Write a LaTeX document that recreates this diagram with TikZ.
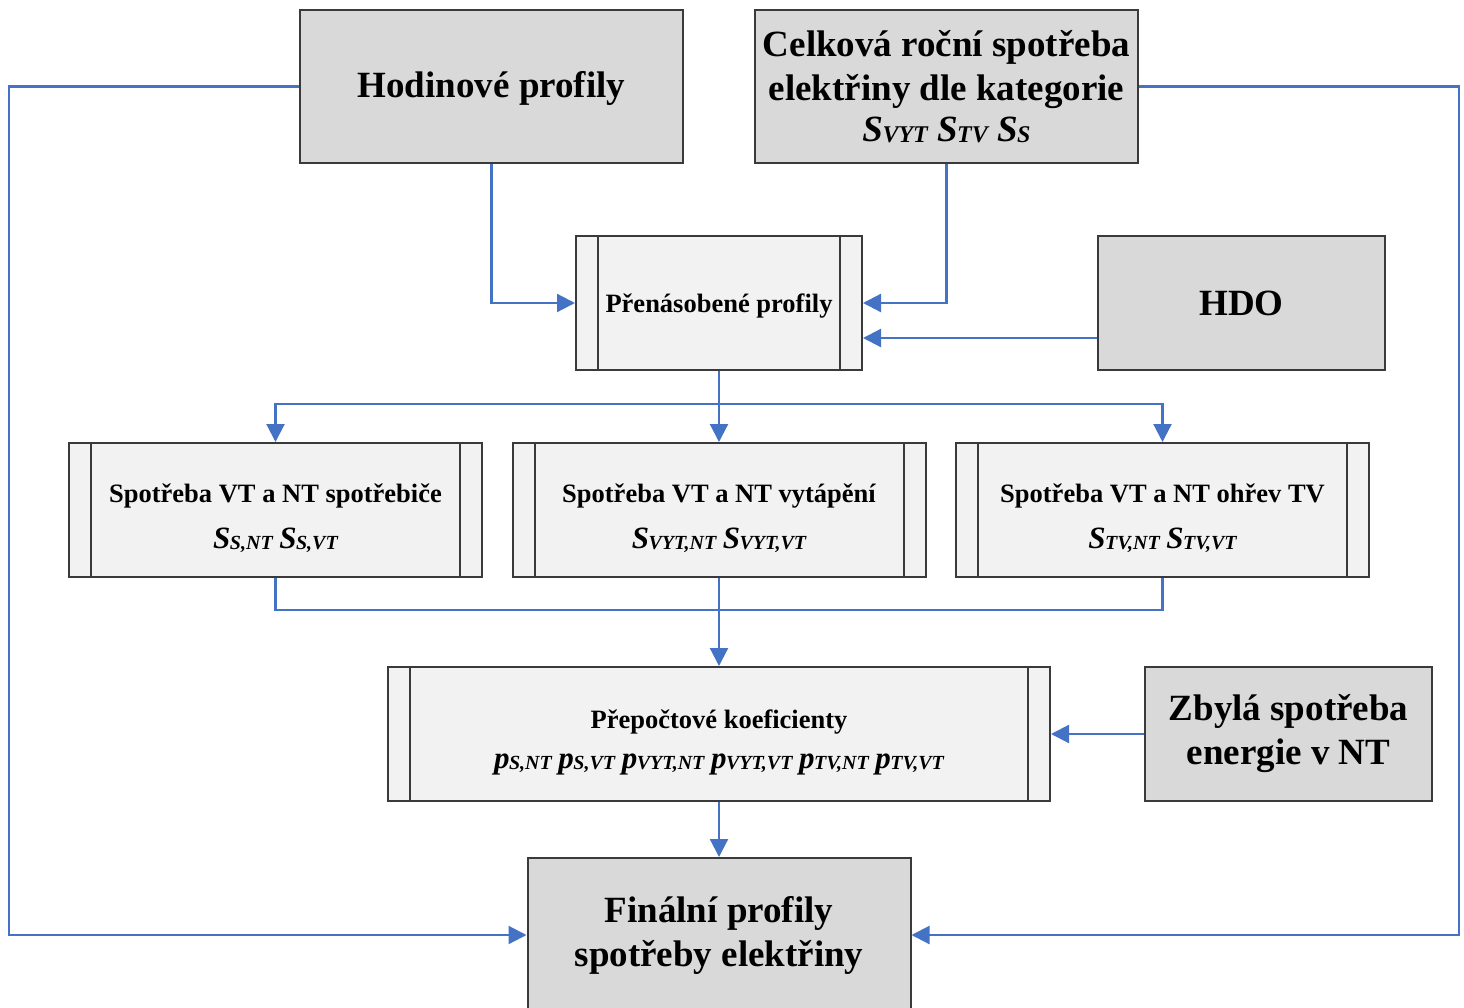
\documentclass[tikz,border=0pt]{standalone}
\usepackage{fontspec}
\setmainfont{Liberation Serif}
\usetikzlibrary{arrows.meta,calc}

\definecolor{flow}{HTML}{4472C4}
\definecolor{boxdark}{HTML}{D9D9D9}
\definecolor{boxlight}{HTML}{F2F2F2}
\definecolor{edge}{HTML}{3A3A3A}

% symbol with a smaller italic subscript
\newcommand{\Sym}[4]{{\fontsize{#3}{#3}\selectfont\bfseries\itshape #1\kern-0.5pt\raisebox{-1pt}{\fontsize{#4}{#4}\selectfont #2}}}
% taller first line, pushes a two-line label a little lower
\newcommand{\toppad}{\rule{0pt}{35pt}}

\begin{document}
\begin{tikzpicture}[x=1pt,y=-1pt,
  big/.style={font=\fontsize{37}{44}\selectfont\bfseries},
  small/.style={font=\fontsize{26.5}{46}\selectfont\bfseries},
  databox/.style={draw=edge, line width=2pt, fill=boxdark, inner sep=0pt, align=center},
  procbox/.style={draw=edge, line width=2pt, fill=boxlight, inner sep=0pt, align=center,
    path picture={
      \draw[edge, line width=2pt]
        ([xshift=22pt]path picture bounding box.north west) --
        ([xshift=22pt]path picture bounding box.south west);
      \draw[edge, line width=2pt]
        ([xshift=-22pt]path picture bounding box.north east) --
        ([xshift=-22pt]path picture bounding box.south east);
    }},
  link/.style={draw=flow, line width=2.2pt},
  conn/.style={link, -{Triangle[length=18pt,width=18pt]}},
]
\useasboundingbox (0,0) rectangle (1464,1008);

% input data
\node[databox, big, minimum width=383pt, minimum height=153pt] (hod) at (491.5,86.5) {\rule{0pt}{30pt}Hodinové profily};
\node[databox, big, minimum width=383pt, minimum height=153pt] (cel) at (946.5,86.5)
  {Celková roční spotřeba\\elektřiny dle kategorie\\[-3pt]
   \Sym{S}{VYT}{37}{24} \Sym{S}{TV}{37}{24} \Sym{S}{S}{37}{24}};
\node[databox, big, minimum width=287pt, minimum height=134pt] (hdo) at (1241.5,303) {HDO};

% multiplied profiles
\node[procbox, small, minimum width=286pt, minimum height=134pt] (pren) at (719,303) {\rule{0pt}{24pt}Přenásobené profily};

% consumption split by tariff
\node[procbox, small, minimum width=413pt, minimum height=134pt] (sp1) at (275.5,510)
  {\toppad Spotřeba VT a NT spotřebiče\\ \Sym{S}{S,NT}{31}{20} \Sym{S}{S,VT}{31}{20}};
\node[procbox, small, minimum width=413pt, minimum height=134pt] (sp2) at (719,510)
  {\toppad Spotřeba VT a NT vytápění\\ \Sym{S}{VYT,NT}{31}{20} \Sym{S}{VYT,VT}{31}{20}};
\node[procbox, small, minimum width=413pt, minimum height=134pt] (sp3) at (1162.5,510)
  {\toppad Spotřeba VT a NT ohřev TV\\ \Sym{S}{TV,NT}{31}{20} \Sym{S}{TV,VT}{31}{20}};

% conversion coefficients
\node[procbox, small, minimum width=662pt, minimum height=134pt] (pp) at (719,734)
  {\toppad Přepočtové koeficienty\\[-6pt]
   \Sym{p}{S,NT}{31}{20} \Sym{p}{S,VT}{31}{20} \Sym{p}{VYT,NT}{31}{20} \Sym{p}{VYT,VT}{31}{20} \Sym{p}{TV,NT}{31}{20} \Sym{p}{TV,VT}{31}{20}};
\node[databox, big, minimum width=287pt, minimum height=134pt] (zb) at (1288.5,734) {Zbylá spotřeba\\energie v NT};

% result
\node[databox, big, minimum width=383pt, minimum height=154pt] (fin) at (719,935) {Finální profily\\spotřeby elektřiny};

% connectors
\draw[conn] (hod.south) |- (pren.west);
\draw[conn] (cel.south) |- (pren.east);
\draw[conn] ([yshift=-35pt]hdo.west) -- ([yshift=-35pt]hdo.west -| pren.east);

\coordinate (split) at (719,404);
\draw[conn] (pren.south) -- (sp2.north);
\draw[conn] (split) -| (sp1.north);
\draw[conn] (split) -| (sp3.north);

\coordinate (merge) at (719,610);
\draw[link] (sp1.south) |- (merge) -| (sp3.south);
\draw[link] (sp2.south) -- (merge);
\draw[conn] (merge) -- (pp.north);

\draw[conn] (zb.west) -- (pp.east);
\draw[conn] (pp.south) -- (fin.north);

\draw[conn] (hod.west) -- ++(-290,0) |- (fin.west);
\draw[conn] (cel.east) -- ++(320,0) |- (fin.east);
\end{tikzpicture}
\end{document}
